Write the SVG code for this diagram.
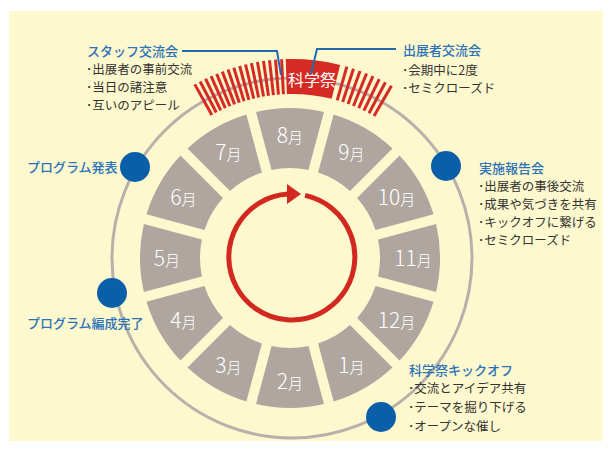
<svg xmlns="http://www.w3.org/2000/svg" xmlns:xlink="http://www.w3.org/1999/xlink" width="612" height="452" viewBox="0 0 612 452">
<style>
.head{font-family:"Noto Sans CJK JP","Noto Sans",sans-serif;font-size:13px;font-weight:500;fill:#2b72b8}
.body{font-family:"Noto Sans CJK JP","Noto Sans",sans-serif;font-size:12.5px;fill:#333333}
.mon{font-family:"Noto Sans CJK JP","Noto Sans",sans-serif;fill:#ffffff;font-weight:300;text-anchor:middle}
.num{font-size:21px}
.tsu{font-size:15px}
.seg{fill:#afa6a0}
.dot{fill:#0b5fa9}
.conn{fill:none;stroke:#2468b0;stroke-width:2}
</style>
<defs>
<path id="seg" d="M256.03,111.9 A150,150 0 0 1 323.97,111.9 L308.43,169.91 A90,90 0 0 0 271.57,169.91 Z"/>
<line id="stripe" x1="292" y1="94" x2="292" y2="59" stroke="#d52b24" stroke-width="3"/>
</defs>
<rect width="612" height="452" fill="#ffffff"/>
<rect x="9" y="11" width="594" height="430" fill="#fdf8cd"/>
<circle id="ring" cx="292" cy="258" r="180" fill="none" stroke="#b8b0aa" stroke-width="3"/>
<g id="band">
<use href="#stripe" transform="rotate(-3 292 258)"/>
<use href="#stripe" transform="rotate(-4.75 292 258)"/>
<use href="#stripe" transform="rotate(-6.5 292 258)"/>
<use href="#stripe" transform="rotate(-8.25 292 258)"/>
<use href="#stripe" transform="rotate(-10 292 258)"/>
<use href="#stripe" transform="rotate(-11.75 292 258)"/>
<use href="#stripe" transform="rotate(-13.5 292 258)"/>
<use href="#stripe" transform="rotate(-15.25 292 258)"/>
<use href="#stripe" transform="rotate(-17 292 258)"/>
<use href="#stripe" transform="rotate(-18.75 292 258)"/>
<use href="#stripe" transform="rotate(-20.5 292 258)"/>
<use href="#stripe" transform="rotate(-22.25 292 258)"/>
<use href="#stripe" transform="rotate(-24 292 258)"/>
<use href="#stripe" transform="rotate(-25.75 292 258)"/>
<use href="#stripe" transform="rotate(-27.5 292 258)"/>
<use href="#stripe" transform="rotate(-29.25 292 258)"/>
<use href="#stripe" transform="rotate(16 292 258)"/>
<use href="#stripe" transform="rotate(18 292 258)"/>
<use href="#stripe" transform="rotate(20 292 258)"/>
<use href="#stripe" transform="rotate(22 292 258)"/>
<use href="#stripe" transform="rotate(24 292 258)"/>
<use href="#stripe" transform="rotate(26 292 258)"/>
<use href="#stripe" transform="rotate(28 292 258)"/>
<use href="#stripe" transform="rotate(30 292 258)"/>
</g>
<g id="kagakusai">
<path d="M285.75,59.10 A199,199 0 0 1 340.14,64.91 L331.67,98.87 A164,164 0 0 0 286.85,94.08 Z" fill="#d52b24"/>
<text x="312" y="86" font-family="Noto Sans CJK JP, sans-serif" font-size="16" fill="#ffffff" text-anchor="middle">科学祭</text>
</g>
<g id="cycle">
<path d="M305.1,195.4 A63,63 0 1 1 288,194.1" fill="none" stroke="#d2281f" stroke-width="5"/>
<polygon points="287,184 301,194 287,204" fill="#d2281f"/>
</g>
<g id="m8"><use href="#seg" class="seg"/><text class="mon" x="290" y="143"><tspan class="num">8</tspan><tspan class="tsu">月</tspan></text></g>
<g id="m9"><use href="#seg" class="seg" transform="rotate(30 290 258)"/><text class="mon" x="351.5" y="159.5"><tspan class="num">9</tspan><tspan class="tsu">月</tspan></text></g>
<g id="m10"><use href="#seg" class="seg" transform="rotate(60 290 258)"/><text class="mon" x="396.5" y="204.5"><tspan class="num">10</tspan><tspan class="tsu">月</tspan></text></g>
<g id="m11"><use href="#seg" class="seg" transform="rotate(90 290 258)"/><text class="mon" x="413" y="266"><tspan class="num">11</tspan><tspan class="tsu">月</tspan></text></g>
<g id="m12"><use href="#seg" class="seg" transform="rotate(120 290 258)"/><text class="mon" x="396.5" y="327.5"><tspan class="num">12</tspan><tspan class="tsu">月</tspan></text></g>
<g id="m1"><use href="#seg" class="seg" transform="rotate(150 290 258)"/><text class="mon" x="351.5" y="372.5"><tspan class="num">1</tspan><tspan class="tsu">月</tspan></text></g>
<g id="m2"><use href="#seg" class="seg" transform="rotate(180 290 258)"/><text class="mon" x="290" y="389"><tspan class="num">2</tspan><tspan class="tsu">月</tspan></text></g>
<g id="m3"><use href="#seg" class="seg" transform="rotate(210 290 258)"/><text class="mon" x="228.5" y="372.5"><tspan class="num">3</tspan><tspan class="tsu">月</tspan></text></g>
<g id="m4"><use href="#seg" class="seg" transform="rotate(240 290 258)"/><text class="mon" x="183.5" y="327.5"><tspan class="num">4</tspan><tspan class="tsu">月</tspan></text></g>
<g id="m5"><use href="#seg" class="seg" transform="rotate(270 290 258)"/><text class="mon" x="167" y="266"><tspan class="num">5</tspan><tspan class="tsu">月</tspan></text></g>
<g id="m6"><use href="#seg" class="seg" transform="rotate(300 290 258)"/><text class="mon" x="183.5" y="204.5"><tspan class="num">6</tspan><tspan class="tsu">月</tspan></text></g>
<g id="m7"><use href="#seg" class="seg" transform="rotate(330 290 258)"/><text class="mon" x="228.5" y="159.5"><tspan class="num">7</tspan><tspan class="tsu">月</tspan></text></g>
<g id="connectors">
<path class="conn" d="M182,51 H277 L281,75"/>
<path class="conn" d="M396,49 H317 L311,74"/>
</g>
<g id="staff">
<text class="head" x="87" y="56">スタッフ交流会</text>
<text class="body" x="86" y="74">･出展者の事前交流</text>
<text class="body" x="86" y="92">･当日の諸注意</text>
<text class="body" x="86" y="110">･互いのアピール</text>
</g>
<g id="exhibitor">
<text class="head" x="403" y="55">出展者交流会</text>
<text class="body" x="402" y="75">･会期中に2度</text>
<text class="body" x="402" y="93">･セミクローズド</text>
</g>
<g id="program">
<circle class="dot" cx="135" cy="167" r="15"/>
<text class="head" x="27" y="172">プログラム発表</text>
</g>
<g id="program-done">
<circle class="dot" cx="112" cy="293" r="15"/>
<text class="head" x="27" y="328">プログラム編成完了</text>
</g>
<g id="report">
<circle class="dot" cx="446" cy="166" r="15"/>
<text class="head" x="479" y="173">実施報告会</text>
<text class="body" x="478" y="191">･出展者の事後交流</text>
<text class="body" x="478" y="209">･成果や気づきを共有</text>
<text class="body" x="478" y="227">･キックオフに繋げる</text>
<text class="body" x="478" y="245">･セミクローズド</text>
</g>
<g id="kickoff">
<circle class="dot" cx="381" cy="417" r="15"/>
<text class="head" x="409" y="375">科学祭キックオフ</text>
<text class="body" x="408" y="393">･交流とアイデア共有</text>
<text class="body" x="408" y="412">･テーマを掘り下げる</text>
<text class="body" x="408" y="431">･オープンな催し</text>
</g>
</svg>
